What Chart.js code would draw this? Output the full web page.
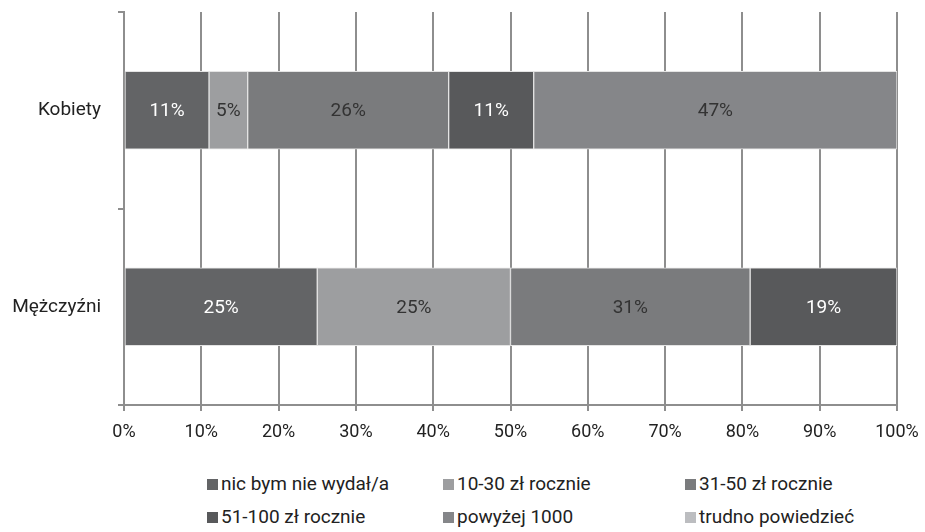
<!DOCTYPE html>
<html>
<head>
<meta charset="utf-8">
<script src="https://cdn.jsdelivr.net/npm/chart.js@4"></script>
<style>
  body { margin: 0; background: #fff; font-family: Roboto, sans-serif; }
  #wrap { position: relative; width: 925px; height: 460px; }
  #legend { position: absolute; left: 0; top: 472px; width: 925px; }
  .item { position: absolute; display: flex; align-items: center; font-size: 19px; color: #222; white-space: nowrap; line-height: 24px; }
  .box { width: 11px; height: 11px; margin-right: 3px; }
</style>
</head>
<body>
<div id="wrap"><canvas id="chart"></canvas></div>
<div id="legend"></div>
<script>
// dane z wykresu
const kategorie = ['Kobiety', 'Mężczyźni'];
const serie = ['nic bym nie wydał/a', '10-30 zł rocznie', '31-50 zł rocznie', '51-100 zł rocznie', 'powyżej 1000', 'trudno powiedzieć'];
const nicBym = [11, 25];
const od10do30 = [5, 25];
const od31do50 = [26, 31];
const od51do100 = [11, 19];
const powyzej1000 = [47, 0];
const trudno = [0, 0];
const xTicks = ['0%', '10%', '20%', '30%', '40%', '50%', '60%', '70%', '80%', '90%', '100%'];

const kolory = ['#636466', '#9d9ea0', '#7a7b7d', '#58595b', '#858689', '#bcbdc0'];
const koloryEtykiet = ['#ffffff', '#333333', '#333333', '#ffffff', '#333333', '#333333'];
const wartosci = [nicBym, od10do30, od31do50, od51do100, powyzej1000, trudno];

const datasets = serie.map((nazwa, i) => ({
    label: nazwa,
    data: wartosci[i],
    backgroundColor: kolory[i],
    borderColor: '#e4e4e4',
    borderWidth: 1,
    borderSkipped: false,
    barThickness: 78
}));

// etykiety wartości w środku segmentów
const etykiety = {
    id: 'etykiety',
    afterDatasetsDraw(chart) {
        const ctx = chart.ctx;
        ctx.save();
        ctx.font = '19px Roboto';
        ctx.textAlign = 'center';
        ctx.textBaseline = 'middle';
        chart.data.datasets.forEach((ds, i) => {
            chart.getDatasetMeta(i).data.forEach((bar, j) => {
                const v = ds.data[j];
                if (!v) return;
                ctx.fillStyle = koloryEtykiet[i];
                ctx.fillText(v + '%', (bar.x + bar.base) / 2, bar.y + 1);
            });
        });
        ctx.restore();
    }
};

new Chart(document.getElementById('chart'), {
    type: 'bar',
    data: { labels: kategorie, datasets: datasets },
    options: {
        indexAxis: 'y',
        responsive: true,
        maintainAspectRatio: false,
        animation: false,
        layout: { padding: { left: 0, right: 28, top: 12, bottom: 0 } },
        plugins: { legend: { display: false }, tooltip: { enabled: false } },
        scales: {
            x: {
                stacked: true,
                min: 0,
                max: 100,
                afterFit: (s) => { s.height = 55; s.paddingLeft = 0; s.paddingRight = 0; },
                afterBuildTicks: (s) => { s.ticks = xTicks.map((t, i) => ({ value: i * 10 })); },
                ticks: {
                    callback: (v, i) => xTicks[i],
                    color: '#222',
                    font: { family: 'Roboto', size: 18 },
                    padding: 11,
                    maxRotation: 0
                },
                grid: { color: '#8e8e8e', lineWidth: 2, tickLength: 6 },
                border: { color: '#8e8e8e', width: 2 }
            },
            y: {
                stacked: true,
                afterFit: (s) => { s.width = 124; s.paddingTop = 0; s.paddingBottom = 0; },
                ticks: {
                    color: '#222',
                    font: { family: 'Roboto', size: 19 },
                    padding: 17
                },
                grid: { offset: true, drawOnChartArea: false, color: '#8e8e8e', lineWidth: 2, tickLength: 6 },
                border: { color: '#8e8e8e', width: 2 }
            }
        }
    },
    plugins: [etykiety]
});

// legenda
const legenda = document.getElementById('legend');
const kolumnyX = [207, 443, 685];
serie.forEach((nazwa, i) => {
    const el = document.createElement('div');
    el.className = 'item';
    el.style.left = kolumnyX[i % 3] + 'px';
    el.style.top = (Math.floor(i / 3) * 33) + 'px';
    el.innerHTML = '<span class="box" style="background:' + kolory[i] + '"></span>' + nazwa;
    legenda.appendChild(el);
});
</script>
</body>
</html>
